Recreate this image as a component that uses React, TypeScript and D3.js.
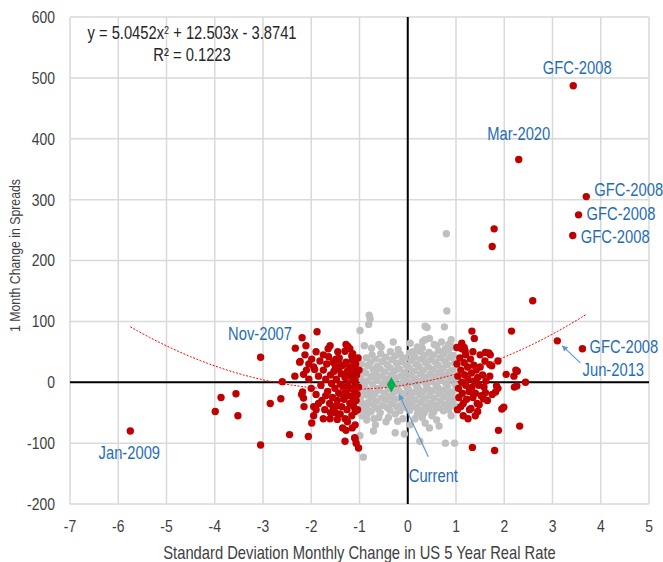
import React from 'react';
import * as d3 from 'd3';

// trend fit shown on the chart
const fitA = 5.0452;
const fitB = 12.503;
const fitC = -3.8741;
const fitRange = [-5.75, 3.7];

const xTicks = [-7, -6, -5, -4, -3, -2, -1, 0, 1, 2, 3, 4, 5];
const yTicks = [-200, -100, 0, 100, 200, 300, 400, 500, 600];

// months where the real rate move was within +/- 1 sd
const grayPoints: [number, number][] = [
  [-0.96, 30], [-0.94, 18], [-0.97, 6], [-0.93, -4], [-0.95, -15], [-0.98, -26], [-0.94, -35], [-0.92, -44],
  [-0.86, 40], [-0.83, 27], [-0.87, 15], [-0.84, 2], [-0.88, -9], [-0.85, -21], [-0.82, -33], [-0.86, -41], [-0.84, -52],
  [-0.74, 45], [-0.77, 33], [-0.72, 21], [-0.76, 9], [-0.73, -3], [-0.78, -14], [-0.75, -25], [-0.71, -37], [-0.76, -48],
  [-0.66, 38], [-0.63, 26], [-0.67, 14], [-0.64, 3], [-0.62, -10], [-0.68, -19], [-0.65, -31], [-0.63, -43],
  [-0.56, 47], [-0.53, 34], [-0.57, 22], [-0.54, 10], [-0.52, -2], [-0.58, -13], [-0.55, -26], [-0.53, -38], [-0.57, -50],
  [-0.46, 41], [-0.43, 29], [-0.47, 17], [-0.44, 5], [-0.42, -7], [-0.48, -18], [-0.45, -29], [-0.43, -41],
  [-0.36, 50], [-0.33, 37], [-0.37, 24], [-0.34, 12], [-0.32, 0], [-0.38, -11], [-0.35, -23], [-0.33, -35], [-0.37, -46],
  [-0.26, 43], [-0.23, 31], [-0.27, 19], [-0.24, 7], [-0.22, -5], [-0.28, -16], [-0.25, -28], [-0.23, -40], [-0.26, -52],
  [-0.16, 46], [-0.13, 34], [-0.17, 22], [-0.14, 10], [-0.12, -2], [-0.18, -14], [-0.15, -25], [-0.13, -37], [-0.16, -47],
  [-0.06, 40], [-0.03, 28], [-0.07, 16], [-0.04, 4], [-0.02, -8], [-0.08, -19], [-0.05, -31], [-0.03, -42],
  [0.04, 48], [0.07, 36], [0.03, 24], [0.06, 12], [0.08, 0], [0.02, -12], [0.05, -23], [0.07, -35], [0.04, -46],
  [0.14, 42], [0.17, 30], [0.13, 18], [0.16, 6], [0.18, -6], [0.12, -17], [0.15, -29], [0.17, -41],
  [0.24, 51], [0.27, 38], [0.23, 26], [0.26, 14], [0.28, 2], [0.22, -10], [0.25, -21], [0.27, -33], [0.24, -45],
  [0.34, 44], [0.37, 32], [0.33, 20], [0.36, 8], [0.38, -4], [0.32, -15], [0.35, -27], [0.37, -39], [0.34, -50],
  [0.44, 49], [0.47, 37], [0.43, 25], [0.46, 13], [0.48, 1], [0.42, -11], [0.45, -22], [0.47, -34], [0.44, -44],
  [0.54, 45], [0.57, 33], [0.53, 21], [0.56, 9], [0.58, -3], [0.52, -14], [0.55, -26], [0.57, -38], [0.54, -49],
  [0.64, 52], [0.67, 40], [0.63, 28], [0.66, 16], [0.68, 4], [0.62, -8], [0.65, -19], [0.67, -31], [0.64, -42],
  [0.74, 47], [0.77, 35], [0.73, 23], [0.76, 11], [0.78, -1], [0.72, -13], [0.75, -24], [0.77, -36], [0.74, -47],
  [0.84, 53], [0.87, 41], [0.83, 29], [0.86, 17], [0.88, 5], [0.82, -7], [0.85, -18], [0.87, -30], [0.84, -40],
  [0.94, 44], [0.97, 32], [0.93, 20], [0.96, 8], [0.98, -4], [0.92, -16], [0.95, -27], [0.97, -38],
  [-0.6, 62], [-0.3, 66], [0.05, 64], [0.2, 58], [0.45, 72], [0.7, 66], [0.9, 70], [-0.9, 60],
  [-0.1, -60], [0.3, -58], [-0.6, -58], [0.6, -62], [0.9, -55], [-0.45, -65], [0.05, -70], [0.45, -75],
  [-0.99, 85], [-0.81, 95], [-0.78, 104], [-0.8, 110], [-0.92, -123], [-0.71, -80], [-0.67, -70], [-0.99, -88],
  [-0.26, -83], [-0.07, -85], [0.25, -97], [0.78, -100], [0.97, -100], [0.36, 92], [0.4, 90], [0.76, 91],
  [0.81, 117], [0.31, 67], [0.36, 70], [0.78, 55], [-0.2, 54], [0.1, 50], [0.36, -67], [-0.21, -64],
  [0.8, 244], [-0.55, 58], [0.6, 60], [-0.4, -58], [0.5, -55], [0.15, -60], [-0.85, -62], [0.65, -72], [0.85, -45],
  [0.55, 62], [0.85, 62], [0.95, 58], [0.3, 56], [-0.75, 56], [-0.95, -55], [-0.7, -60], [0.2, -52],
];

// months with moves beyond +/- 1 sd
const redPoints: [number, number][] = [
  [-5.75, -80], [-3.99, -48], [-3.87, -25], [-3.56, -19], [-3.52, -55], [-3.05, 41], [-3.05, -103], [-2.85, -35],
  [-2.63, -27], [-2.6, 1], [-2.45, -86], [-2.33, 56], [-2.19, 73], [-1.88, 83], [-2.34, 10], [-1.99, -67],
  [-2.06, -89], [-1.75, -60], [-2.23, 34], [-2.11, 60], [-2.13, 45], [-1.61, 60], [-1.28, 62], [-1.24, 59],
  [-1.14, 47], [-2.24, 33], [-1.99, 38], [-1.49, 38], [-1.4, 26], [-1.93, 21], [-2.16, 13], [-2.18, -16],
  [-2.16, -26], [-1.95, -40], [-1.61, -60], [-1.28, -79], [-1.1, -91], [-1.07, -100], [-1.3, -97], [-1.09, -93],
  [-1.02, -108], [-1.46, -61], [-1.09, -70], [-1.33, -23], [-1.47, -39], [-1.09, -48], [-1.3, 51], [-1.16, 43],
  [-1.44, 37], [-1.5, 26], [-1.19, 10], [-1.09, 2], [-1.23, -9],
  [-2.05, 5], [-2.0, -10], [-1.95, 25], [-1.9, -20], [-1.85, 10], [-1.82, 35], [-1.8, -5], [-1.78, -30],
  [-1.75, 20], [-1.72, -45], [-1.7, 5], [-1.68, 30], [-1.66, -15], [-1.64, 42], [-1.62, -35], [-1.6, 12],
  [-1.58, -2], [-1.56, -25], [-1.55, 33], [-1.53, 18], [-1.51, -10], [-1.5, -50], [-1.48, 5], [-1.46, -30],
  [-1.45, 22], [-1.43, -18], [-1.42, 40], [-1.4, -3], [-1.38, 14], [-1.37, -40], [-1.35, 28], [-1.34, -8],
  [-1.32, -28], [-1.3, 8], [-1.29, -15], [-1.28, 33], [-1.26, -45], [-1.25, 18], [-1.24, -2], [-1.22, -22],
  [-1.21, 25], [-1.2, -35], [-1.18, -10], [-1.17, 15], [-1.16, -55], [-1.15, 36], [-1.14, -25], [-1.13, 4],
  [-1.12, -40], [-1.11, 22], [-1.1, -15], [-1.09, -5], [-1.08, 30], [-1.07, -30], [-1.06, 12], [-1.05, -20],
  [-1.04, -45], [-1.03, 40], [-1.02, -8], [-1.01, 20], [-1.3, -60], [-1.4, -52], [-1.55, -40], [-1.7, -22],
  [-1.85, -35], [-1.95, -55], [-1.75, 45], [-1.9, 50], [-2.05, 30], [-2.15, -40], [-2.2, -20], [-2.1, 20],
  [-1.65, 55], [-1.45, 50], [-1.2, 55], [-1.15, -75], [-1.25, -65], [-1.35, -75], [-1.6, -50], [-1.9, -45],
  [3.43, 487], [2.3, 366], [3.7, 305], [3.54, 275], [3.42, 241], [1.79, 252], [1.75, 223], [2.59, 134],
  [3.1, 68], [3.62, 55], [1.33, 84], [1.38, 72], [2.15, 84], [1.12, 64], [1.17, 57], [1.19, 51],
  [1.02, 57], [1.61, 49], [1.68, 48], [1.71, 45], [1.87, 35], [1.7, 29], [1.74, 27], [2.04, 13],
  [2.2, 10], [2.27, 18], [2.44, 0], [2.21, -8], [2.26, -6], [1.84, -6], [1.87, -10], [1.82, -16],
  [1.61, -17], [1.57, -27], [1.48, -37], [1.31, -43], [1.99, -41], [1.95, -44], [1.88, -79], [2.32, -72],
  [1.34, -107], [1.8, -112], [2.24, 20],
  [1.02, 30], [1.04, 10], [1.05, -10], [1.06, -25], [1.08, 40], [1.1, 20], [1.12, 0], [1.13, -18],
  [1.15, -35], [1.17, 32], [1.18, 12], [1.2, -5], [1.22, -28], [1.24, 25], [1.25, 5], [1.27, -15],
  [1.28, -45], [1.3, 38], [1.32, 15], [1.33, -8], [1.35, -25], [1.37, 28], [1.38, 2], [1.4, -18],
  [1.42, 20], [1.44, -35], [1.45, 8], [1.47, -5], [1.5, 25], [1.52, -22], [1.55, 12], [1.58, -8],
  [1.6, 35], [1.62, 2], [1.65, -30], [1.1, -40], [1.2, 45], [1.03, -45], [1.15, -55], [1.25, -60],
  [1.4, -55], [1.5, 45], [1.35, 50], [1.7, 10], [1.75, -20], [1.12, 55], [1.45, -48],
];

const currentPoint: [number, number] = [-0.34, -4];

// labelled months: point, text offset in px, anchor
const annotations = [
  { text: 'GFC-2008', x: 3.43, y: 487, dx: 4, dy: -12, anchor: 'middle' },
  { text: 'Mar-2020', x: 2.3, y: 366, dx: 0, dy: -19, anchor: 'middle' },
  { text: 'GFC-2008', x: 3.7, y: 305, dx: 8, dy: -1, anchor: 'start' },
  { text: 'GFC-2008', x: 3.54, y: 275, dx: 8, dy: 5, anchor: 'start' },
  { text: 'GFC-2008', x: 3.42, y: 241, dx: 8, dy: 7, anchor: 'start' },
  { text: 'GFC-2008', x: 3.62, y: 55, dx: 7, dy: 4, anchor: 'start' },
  { text: 'Jun-2013', x: 3.1, y: 68, dx: 56, dy: 35, anchor: 'middle' },
  { text: 'Nov-2007', x: -1.88, y: 83, dx: -57, dy: 8, anchor: 'middle' },
  { text: 'Jan-2009', x: -5.75, y: -80, dx: -1, dy: 28, anchor: 'middle' },
  { text: 'Current', x: -0.34, y: -4, dx: 42, dy: 97, anchor: 'middle' },
];

const arrows = [
  { x: 3.1, y: 68, x1: 23, y1: 22, x2: 5, y2: 5 },
  { x: -0.34, y: -4, x1: 37, y1: 72, x2: 8, y2: 10 },
];

const font = '"Liberation Sans", Arial, sans-serif';
const narrow = 0.82; // the original uses a condensed face

// text squeezed horizontally around its anchor point
const T = ({ x, y, rotate = 0, children, ...rest }: any) => (
  <text transform={`translate(${x},${y}) rotate(${rotate}) scale(${narrow},1)`} {...rest}>{children}</text>
);

export default function App() {
  const width = 663;
  const height = 562;
  const margin = { top: 17, right: 14, bottom: 58, left: 70 };

  const x = d3.scaleLinear().domain([-7, 5]).range([margin.left, width - margin.right]);
  const y = d3.scaleLinear().domain([-200, 600]).range([height - margin.bottom, margin.top]);

  const fitData = d3.range(fitRange[0], fitRange[1] + 0.001, 0.05);
  const fitLine = d3.line<number>()
    .x(d => x(d))
    .y(d => y(fitA * d * d + fitB * d + fitC));

  const diamond = d3.symbol().type(d3.symbolDiamond).size(70)();

  return (
    <svg width={width} height={height} style={{ position: 'absolute', left: 0, top: 0, background: '#fff' }}
      fontFamily={font}>
      <defs>
        <marker id="arr" viewBox="0 0 10 10" refX="9" refY="5" markerWidth="5" markerHeight="5" orient="auto">
          <path d="M0,0 L10,5 L0,10 z" fill="#5b9bd5" />
        </marker>
      </defs>

      {/* grid */}
      <g stroke="#d9d9d9" strokeWidth={1.5}>
        {xTicks.map(t => (
          <line key={'gx' + t} x1={x(t)} x2={x(t)} y1={y(600)} y2={y(-200)} />
        ))}
        {yTicks.map(t => (
          <line key={'gy' + t} x1={x(-7)} x2={x(5)} y1={y(t)} y2={y(t)} />
        ))}
      </g>

      {/* zero axes */}
      <line x1={x(0)} x2={x(0)} y1={y(600)} y2={y(-200)} stroke="#000" strokeWidth={2} />
      <line x1={x(-7)} x2={x(5)} y1={y(0)} y2={y(0)} stroke="#000" strokeWidth={2} />

      {/* tick labels */}
      <g fontSize={17} fill="#404040">
        {yTicks.map(t => (
          <T key={'ty' + t} x={x(-7) - 15} y={y(t)} dy="0.35em" textAnchor="end">{t}</T>
        ))}
        {xTicks.map(t => (
          <T key={'tx' + t} x={x(t)} y={y(-200) + 22} dy="0.35em" textAnchor="middle">{t}</T>
        ))}
      </g>

      <T x={(x(-7) + x(5)) / 2} y={y(-200) + 49} dy="0.35em" textAnchor="middle" fontSize={18} fill="#404040">
        Standard Deviation Monthly Change in US 5 Year Real Rate
      </T>
      <T x={15} y={(y(600) + y(-200)) / 2 - 5} rotate={-90} dy="0.35em" textAnchor="middle"
        fontSize={15} fill="#404040">
        1 Month Change in Spreads
      </T>

      {/* points */}
      <g fill="#bfbfbf">
        {grayPoints.map((d, i) => <circle key={'g' + i} cx={x(d[0])} cy={y(d[1])} r={3.7} />)}
      </g>
      <g fill="#c00000">
        {redPoints.map((d, i) => <circle key={'r' + i} cx={x(d[0])} cy={y(d[1])} r={3.7} />)}
      </g>

      <path d={fitLine(fitData) || ''} fill="none" stroke="#ff0000" strokeWidth={1} strokeDasharray="2,1.5" />

      <path d={diamond || ''} transform={`translate(${x(currentPoint[0])},${y(currentPoint[1])})`} fill="#00b050" />

      {/* equation */}
      <T x={192} y={y(600) + 16} dy="0.35em" textAnchor="middle" fontSize={18} fill="#262626">
        y = 5.0452x<tspan baselineShift="super" fontSize={11}>2</tspan> + 12.503x - 3.8741
      </T>
      <T x={192} y={y(600) + 38} dy="0.35em" textAnchor="middle" fontSize={18} fill="#262626">
        R² = 0.1223
      </T>

      {/* arrows */}
      {arrows.map((a, i) => (
        <line key={'a' + i} x1={x(a.x) + a.x1} y1={y(a.y) + a.y1} x2={x(a.x) + a.x2} y2={y(a.y) + a.y2}
          stroke="#5b9bd5" strokeWidth={1.2} markerEnd="url(#arr)" />
      ))}

      {/* annotations */}
      <g fontSize={18} fill="#1f6db5">
        {annotations.map((a, i) => (
          <T key={'n' + i} x={x(a.x) + a.dx} y={y(a.y) + a.dy} textAnchor={a.anchor}>{a.text}</T>
        ))}
      </g>
    </svg>
  );
}
